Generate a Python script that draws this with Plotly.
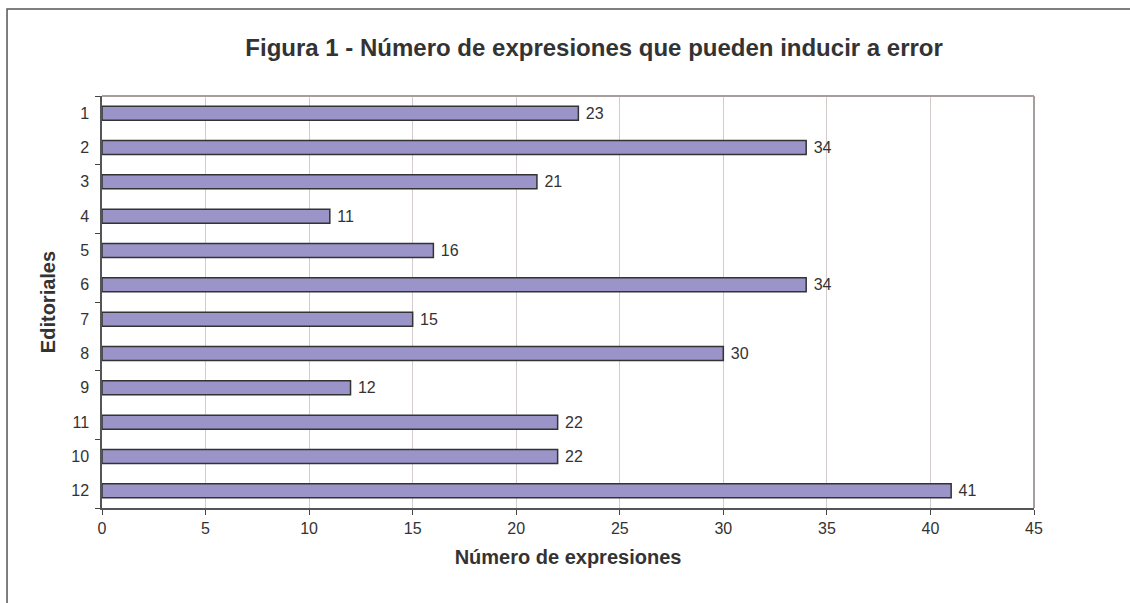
import plotly.graph_objects as go

editoriales = ["1", "2", "3", "4", "5", "6", "7", "8", "9", "11", "10", "12"]
expresiones = [23, 34, 21, 11, 16, 34, 15, 30, 12, 22, 22, 41]
x_ticks = [0, 5, 10, 15, 20, 25, 30, 35, 40, 45]

pos = list(range(len(editoriales)))
FONT = "Liberation Sans, Arial, sans-serif"

fig = go.Figure(go.Bar(
    x=expresiones, y=pos, orientation="h",
    marker=dict(color="#9b94c8", line=dict(color="#333333", width=1.5)),
    text=expresiones, texttemplate="\u00a0%{x}", textposition="outside", cliponaxis=False,
    constraintext="none",
    textfont=dict(family=FONT, size=16, color="#333333"),
    width=0.41,
))

fig.update_layout(
    width=1130, height=603,
    margin=dict(l=102, r=96, t=96, b=95),
    paper_bgcolor="white", plot_bgcolor="white",
    showlegend=False,
    title=dict(text="<b>Figura 1 - Número de expresiones que pueden inducir a error</b>",
               xref="paper", x=0.528, xanchor="center", y=0.921, yanchor="middle",
               font=dict(family=FONT, size=24, color="#333333")),
    font=dict(family=FONT, size=16, color="#333333"),
    xaxis=dict(range=[0, 45], tickvals=x_ticks, showgrid=True, gridcolor="#d4cccc", gridwidth=1,
               zeroline=False, showline=True, linecolor="#555555", linewidth=1.5,
               ticks="outside", ticklen=5, tickcolor="#444444",
               tickfont=dict(size=16, color="#333333"),
               title=dict(text="<b>Número de expresiones</b>", font=dict(size=20, color="#333333"), standoff=14)),
    yaxis=dict(range=[len(editoriales) - 0.5, -0.5], tickvals=pos, ticktext=editoriales,
               showgrid=False, zeroline=False, showline=True, linecolor="#555555", linewidth=1.5,
               ticks="", ticklabelstandoff=8,
               minor=dict(ticks="outside", tick0=-0.5, dtick=2, ticklen=5, tickcolor="#444444", showgrid=False),
               tickfont=dict(size=16, color="#333333"),
               title=dict(text="<b>Editoriales</b>", font=dict(size=20, color="#333333"), standoff=10)),
    shapes=[
        dict(type="line", xref="paper", yref="paper", x0=0, x1=1, y0=1, y1=1,
             line=dict(color="#a89e9e", width=2)),
        dict(type="line", xref="paper", yref="paper", x0=1, x1=1, y0=0, y1=1,
             line=dict(color="#a89e9e", width=2)),
        dict(type="rect", xref="paper", yref="paper", x0=-0.1019, x1=1.11, y0=-0.26, y1=1.211,
             line=dict(color="#555555", width=1.5), layer="below"),
    ],
)

fig.write_html("out.html", config={"displayModeBar": False},
               post_script="document.body.style.margin='0';document.body.style.overflow='hidden';")
